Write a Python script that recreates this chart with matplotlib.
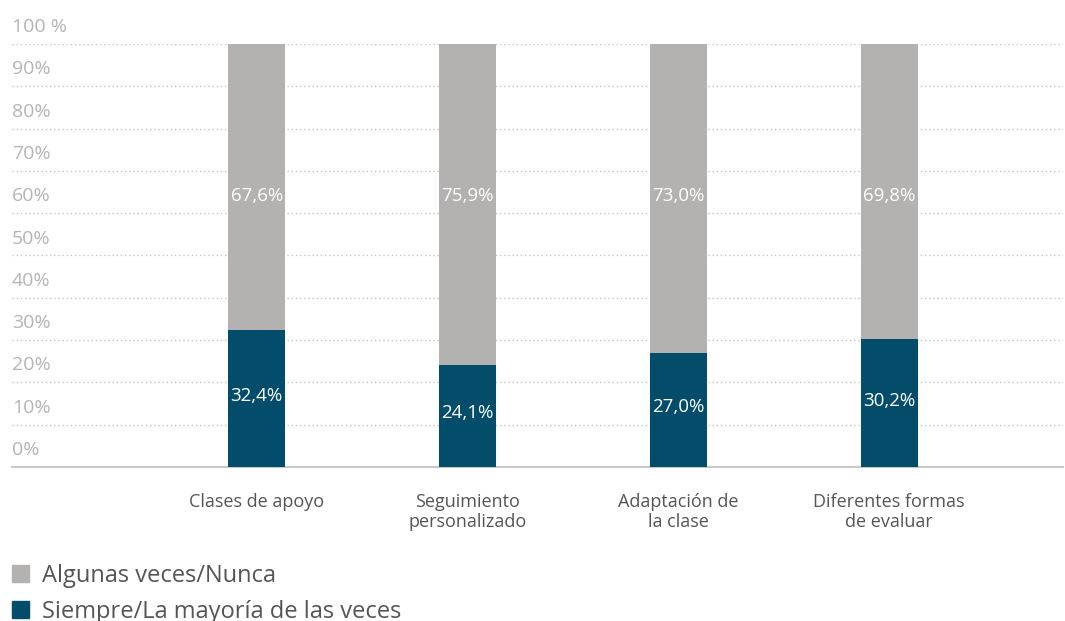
import numpy as np
import matplotlib.pyplot as plt
from matplotlib.patches import Patch

plt.rcParams['font.family'] = ['Open Sans', 'DejaVu Sans']

categories = ['Clases de apoyo', 'Seguimiento\npersonalizado',
              'Adaptación de\nla clase', 'Diferentes formas\nde evaluar']
siempre = [32.4, 24.1, 27.0, 30.2]
algunas = [67.6, 75.9, 73.0, 69.8]
siempre_labels = ['32,4%', '24,1%', '27,0%', '30,2%']
algunas_labels = ['67,6%', '75,9%', '73,0%', '69,8%']
y_ticks = [0, 10, 20, 30, 40, 50, 60, 70, 80, 90, 100]
y_labels = ['0%', '10%', '20%', '30%', '40%', '50%', '60%', '70%', '80%', '90%', '100 %']

blue = '#034d6b'
grey = '#b3b2b0'

fig = plt.figure(figsize=(10.65, 6.21), dpi=100)
ax = fig.add_axes([12 / 1065, 1 - 467 / 621, (1063 - 12) / 1065, (467 - 44) / 621])

x = np.arange(len(categories))
w = 0.27
ax.bar(x, siempre, w, color=blue, zorder=3)
ax.bar(x, algunas, w, bottom=siempre, color=grey, zorder=3)

for i in range(len(x)):
    ax.text(x[i], siempre[i] / 2 + 0.6, siempre_labels[i], ha='center', va='center',
            color='white', fontsize=13.5, zorder=4)
    ax.text(x[i], 64, algunas_labels[i], ha='center', va='center',
            color='white', fontsize=13.5, zorder=4)

ax.set_xlim(-1.161, 3.825)
ax.set_ylim(0, 100)

for t in y_ticks[1:]:
    ax.axhline(t, color='#c4c4c4', lw=1, ls=(0, (1, 2)), zorder=1)
for t, lab in zip(y_ticks, y_labels):
    ax.text(-1.161, t + 4, lab, ha='left', va='center', color='#b5b5b5',
            fontsize=14, clip_on=False)

for s in ['top', 'right', 'left']:
    ax.spines[s].set_visible(False)
ax.spines['bottom'].set_color('#c8c8c8')
ax.spines['bottom'].set_linewidth(1.5)
ax.set_yticks([])
ax.set_xticks(x)
ax.set_xticklabels(categories, fontsize=13, color='#555555', linespacing=1.1)
ax.tick_params(axis='x', length=0, pad=19)

handles = [Patch(color=grey, label='Algunas veces/Nunca'),
           Patch(color=blue, label='Siempre/La mayoría de las veces')]
fig.legend(handles=handles, loc='upper left', bbox_to_anchor=(0.002, 0.107),
           frameon=False, fontsize=17, labelcolor='#555555', handlelength=0.75,
           handleheight=0.75, handletextpad=0.55, labelspacing=0.5, borderaxespad=0)

fig.savefig('out.png', dpi=100)
